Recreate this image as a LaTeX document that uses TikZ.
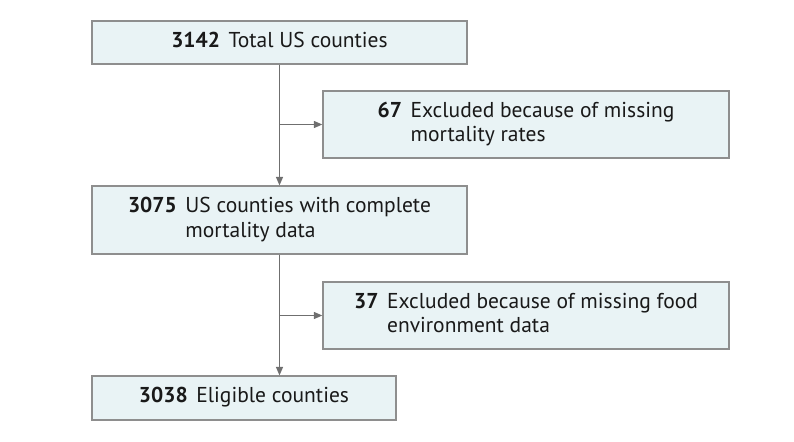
\documentclass[tikz,border=0pt]{standalone}
\usepackage{fontspec}
\setmainfont{PT Sans}
\usepackage{tikz}
\usetikzlibrary{arrows.meta,positioning,calc}

\definecolor{boxfill}{HTML}{E9F3F5}
\definecolor{boxline}{HTML}{8E8E8E}
\definecolor{arrline}{HTML}{6F6F6F}

% count in bold, then the text with a hanging indent
\newcommand{\cnttext}[2]{\begin{tabular}[c]{@{}l@{\hspace{0.4em}}l@{}}\textbf{#1} & \begin{tabular}[t]{@{}l@{}}#2\end{tabular}\end{tabular}}

\begin{document}
\begin{tikzpicture}[
    x=0.025cm, y=-0.025cm,
    box/.style={draw=boxline, line width=0.9pt, fill=boxfill, inner sep=0pt, align=center,
                font=\fontsize{15.3}{17.5}\selectfont, text=black!90},
    arr/.style={-{Triangle[length=6pt,width=5pt]}, draw=arrline, fill=arrline, line width=0.7pt}
]
\useasboundingbox (0,0) rectangle (794,441);

\node[box, minimum width=9.375cm, minimum height=1.075cm] (total) at (279.5,42.5) {\cnttext{3142}{Total US counties}};
\node[box, minimum width=10.15cm, minimum height=1.675cm] (excl1) at (526,124.5) {\cnttext{67}{Excluded because of missing\\mortality rates}};
\node[box, minimum width=9.375cm, minimum height=1.7cm] (complete) at (279.5,220) {\cnttext{3075}{US counties with complete\\mortality data}};
\node[box, minimum width=10.15cm, minimum height=1.675cm] (excl2) at (526,315.5) {\cnttext{37}{Excluded because of missing food\\environment data}};
\node[box, minimum width=7.6cm, minimum height=1.1cm] (eligible) at (244,398) {\cnttext{3038}{Eligible counties}};

\draw[arr] (total.south) -- (complete.north);
\draw[arr] (total.south |- excl1.west) -- (excl1.west);
\draw[arr] (complete.south) -- (complete.south |- eligible.north);
\draw[arr] (complete.south |- excl2.west) -- (excl2.west);
\end{tikzpicture}
\end{document}
